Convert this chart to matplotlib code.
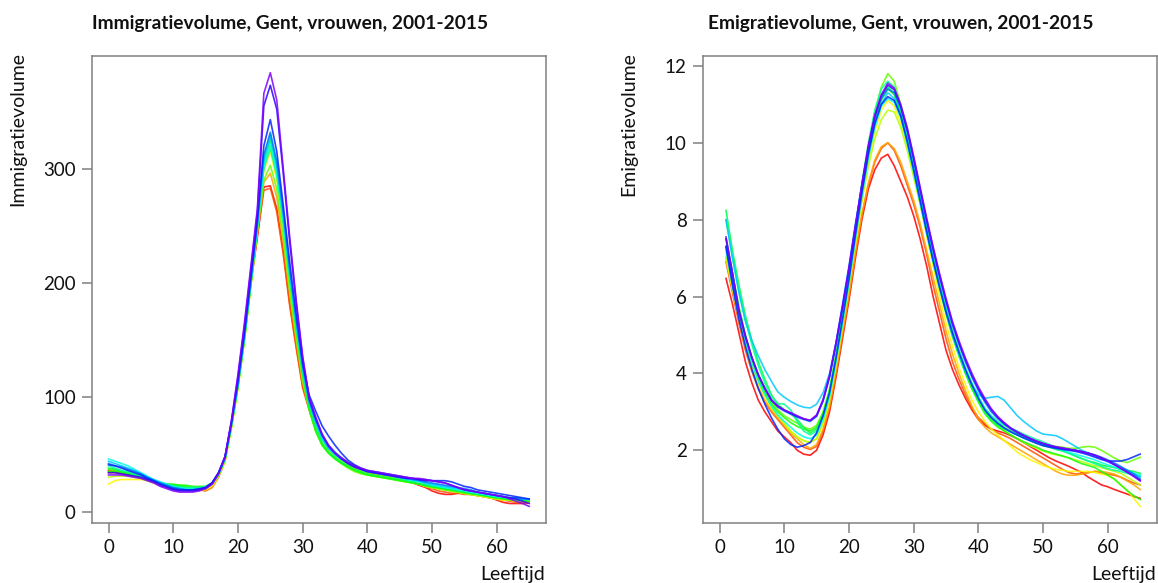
import numpy as np
import matplotlib.pyplot as plt
from matplotlib.colors import hsv_to_rgb

plt.rcParams['font.family'] = ['Lato', 'DejaVu Sans']

jaren = list(range(2001, 2016))
leeftijd_imm = list(range(0, 66))
leeftijd_emi = list(range(1, 66))

# immigratievolume per leeftijd (0-65), een lijst per jaar
imm_2001 = [36,35,34,33,31,29,28,26,24,22,20,19,19,19,19,19,22,31,45,76,112,155,200, 240,284,285,265,228,182,145,110, 90,72,60,53,48,44,41,38,36,34,33,32,31,30,28,27,25,23,21,18,16,15,15,16,16,15,14,13,12,10,8,7,7,7,8]
imm_2002 = [34,34,33,32,31,30,28,26,24,23,21,20,20,19,19,18,21,30,44,75,111,154,200, 242,281,283,262,225,180,143,108, 89,71,59,52,47,44,41,38,36,34,33,32,31,30,28,27,26,24,22,20,18,17,16,16,15,15,14,13,12,11,10,9,8,8,8]
imm_2003 = [35,35,34,33,32,30,28,26,25,23,22,21,20,20,19,19,22,31,45,75,110,152,202, 245,288,296,275,236,190,150,113, 91,73,60,53,48,45,41,38,36,34,33,32,31,30,29,27,26,24,22,21,20,19,18,17,16,15,14,13,12,11,10,10,9,9,8]
imm_2004 = [24,27,28,28,28,28,27,25,23,22,21,20,19,19,19,19,22,31,44,74,108,150,198, 248,298,315,290,248,200,157,117, 92,74,61,53,48,44,40,37,35,33,32,31,30,29,27,26,25,24,22,21,20,19,18,17,16,15,14,13,12,11,10,10,9,9,9]
imm_2005 = [30,31,31,31,30,29,27,25,24,23,22,21,21,20,20,21,24,32,45,74,108,150,198, 250,302,320,295,252,202,158,118, 91,73,60,52,47,43,39,36,34,32,31,30,30,29,28,27,26,24,23,21,20,19,18,17,16,15,14,13,12,11,11,10,10,9,9]
imm_2006 = [37,36,35,33,32,30,28,26,25,24,23,23,22,21,21,21,24,32,45,74,109,150,198, 246,290,303,282,240,193,152,115, 89,70,58,51,46,42,38,35,33,32,31,30,29,28,27,26,25,24,22,21,20,19,18,17,16,15,15,14,13,12,11,10,10,9,9]
imm_2007 = [35,35,34,33,32,30,28,26,25,24,24,23,23,22,22,22,25,33,46,75,110,151,200, 250,305,325,300,256,205,160,120, 90,71,58,51,46,42,39,36,34,32,31,30,29,28,27,26,25,24,23,22,21,20,19,18,17,16,15,14,13,12,11,11,10,10,9]
imm_2008 = [38,37,35,34,32,31,29,27,25,24,23,22,21,21,21,21,24,32,46,76,110,152,200, 252,310,330,304,258,207,162,121, 92,73,60,52,47,43,40,37,35,33,32,31,30,29,28,27,26,24,23,22,21,20,19,18,17,16,15,14,13,12,12,11,10,10,10]
imm_2009 = [40,38,36,35,33,31,29,27,25,23,22,21,21,21,21,22,25,33,46,76,111,152,201, 249,300,318,294,252,204,162,122, 95,77,63,55,49,45,42,39,37,35,34,33,32,31,29,28,27,26,24,23,22,21,20,19,18,17,16,15,14,13,12,12,11,11,10]
imm_2010 = [46,44,42,40,37,34,31,28,26,24,22,21,20,20,20,21,25,33,47,77,112,154,202, 250,303,322,298,256,208,165,125, 97,79,65,56,50,46,43,40,37,35,34,33,32,31,30,28,27,26,25,23,22,21,20,19,18,17,16,15,14,13,13,12,12,11,11]
imm_2011 = [44,42,40,38,36,33,30,28,25,23,21,20,19,19,20,21,25,34,47,77,112,154,203, 252,308,328,303,260,210,166,126, 96,78,64,55,50,46,42,39,37,35,34,33,32,31,30,29,28,27,25,24,23,22,21,20,19,18,17,16,15,14,13,12,12,11,11]
imm_2012 = [42,40,39,37,35,33,30,27,25,23,21,20,19,19,19,20,24,33,47,77,112,155,203, 253,312,332,306,262,212,168,127, 97,80,67,58,52,47,43,40,37,35,34,33,32,31,30,29,28,27,26,25,24,23,22,21,20,19,17,16,15,14,13,12,12,11,11]
imm_2013 = [41,40,38,36,34,32,29,27,24,22,20,19,19,19,20,21,25,34,48,78,114,156,205, 255,320,343,315,268,218,172,130, 102,88,75,66,58,51,45,41,38,36,35,34,33,32,31,30,29,28,28,27,27,27,26,24,22,21,19,18,17,16,15,14,13,12,11]
imm_2014 = [34,34,33,32,31,30,28,26,23,21,19,18,18,18,19,21,25,34,48,79,118,162,212, 262,355,373,352,296,236,182,134, 99,82,67,57,51,46,42,39,37,35,34,33,32,31,30,29,29,28,27,27,26,25,23,21,19,18,17,16,15,14,13,12,11,9,7]
imm_2015 = [32,32,32,31,30,29,27,25,22,20,18,17,17,17,18,20,24,33,48,80,120,165,215, 265,366,384,360,300,240,185,136, 100,83,68,58,51,47,43,40,38,36,35,34,33,32,31,30,29,29,28,27,26,25,23,21,19,18,17,16,15,14,13,11,9,7,4.5]

# emigratievolume per leeftijd (1-65)
emi_2001 = [6.47,5.8,5.05,4.3,3.75,3.3,3.0,2.75,2.5,2.35,2.2,2.0,1.9,1.87, 2.0,2.4,3.0,3.9,4.9,5.9,7.0,8.0,8.8,9.3,9.6,9.7, 9.4,9.0,8.6,8.1,7.5,6.8,6.0,5.3,4.6,4.1,3.7,3.35,3.05,2.8, 2.65,2.55,2.5,2.45,2.38,2.3,2.2,2.1,2.0,1.9,1.8,1.72,1.65,1.58,1.5,1.42,1.3,1.2,1.1,1.05,0.98,0.92,0.86,0.8,0.75]
emi_2002 = [6.9,6.1,5.3,4.6,4.05,3.6,3.25,3.0,2.8,2.6,2.4,2.2,2.08,2.02, 2.1,2.5,3.1,4.0,5.0,6.0,7.1,8.1,8.9,9.5,9.85,10.0, 9.8,9.4,8.9,8.4,7.8,7.1,6.3,5.6,4.9,4.3,3.85,3.45,3.1,2.85, 2.7,2.55,2.45,2.38,2.3,2.2,2.1,2.0,1.9,1.8,1.7,1.6,1.5,1.42,1.38,1.4,1.42,1.45,1.42,1.38,1.35,1.3,1.22,1.15,1.1]
emi_2003 = [7.0,6.2,5.4,4.7,4.1,3.65,3.3,3.05,2.85,2.65,2.45,2.3,2.15,2.05, 2.15,2.55,3.15,4.05,5.05,6.05,7.15,8.15,8.95,9.55,9.9,10.0, 9.85,9.5,9.0,8.5,7.9,7.2,6.5,5.8,5.1,4.5,4.0,3.55,3.15,2.8, 2.6,2.45,2.35,2.25,2.15,2.05,1.95,1.85,1.75,1.65,1.55,1.45,1.38,1.35,1.35,1.38,1.42,1.45,1.45,1.42,1.38,1.3,1.2,1.1,0.98]
emi_2004 = [7.0,6.2,5.45,4.75,4.2,3.75,3.4,3.1,2.9,2.7,2.5,2.35,2.25,2.2, 2.3,2.7,3.3,4.2,5.2,6.3,7.4,8.5,9.5,10.3,10.85,11.1, 10.95,10.5,9.9,9.2,8.4,7.6,6.8,6.0,5.3,4.7,4.15,3.7,3.3,3.0, 2.75,2.55,2.4,2.25,2.1,1.95,1.85,1.75,1.68,1.6,1.55,1.5,1.48,1.45,1.45,1.45,1.45,1.42,1.38,1.35,1.25,1.1,0.95,0.75,0.54]
emi_2005 = [7.05,6.25,5.5,4.8,4.25,3.8,3.45,3.15,2.9,2.7,2.5,2.35,2.25,2.2, 2.3,2.7,3.35,4.25,5.25,6.3,7.4,8.5,9.4,10.1,10.6,10.85, 10.8,10.4,9.8,9.1,8.4,7.7,7.0,6.3,5.7,5.1,4.6,4.1,3.7,3.3, 3.0,2.8,2.65,2.5,2.4,2.3,2.2,2.12,2.05,1.98,1.92,1.88,1.85,1.8,1.75,1.7,1.65,1.6,1.55,1.5,1.45,1.4,1.3,1.2,1.1]
emi_2006 = [7.3,6.45,5.6,4.9,4.3,3.85,3.5,3.25,3.05,2.9,2.8,2.7,2.6,2.55, 2.65,3.0,3.6,4.5,5.5,6.6,7.8,8.9,9.9,10.8,11.45,11.8, 11.6,11.0,10.3,9.5,8.6,7.8,7.0,6.3,5.6,5.0,4.5,4.0,3.6,3.3, 3.05,2.85,2.7,2.6,2.5,2.42,2.35,2.28,2.2,2.15,2.12,2.1,2.08,2.05,2.05,2.08,2.1,2.08,2.0,1.9,1.8,1.72,1.68,1.75,1.82]
emi_2007 = [7.5,6.6,5.75,5.0,4.4,3.9,3.5,3.2,3.0,2.85,2.72,2.62,2.55,2.5, 2.6,2.95,3.55,4.45,5.45,6.5,7.65,8.75,9.75,10.55,11.1,11.4, 11.25,10.75,10.05,9.25,8.45,7.65,6.9,6.2,5.55,4.95,4.45,4.0,3.6,3.25, 2.95,2.75,2.6,2.5,2.4,2.3,2.22,2.15,2.08,2.0,1.95,1.9,1.85,1.8,1.72,1.65,1.6,1.55,1.45,1.35,1.25,1.1,0.95,0.82,0.72]
emi_2008 = [8.24,7.2,6.3,5.5,4.85,4.3,3.85,3.45,3.2,3.05,2.95,2.8,2.6,2.45, 2.55,2.9,3.5,4.4,5.45,6.55,7.7,8.8,9.85,10.65,11.2,11.45, 11.3,10.8,10.1,9.3,8.5,7.7,6.95,6.25,5.6,5.0,4.5,4.05,3.65,3.3, 3.0,2.8,2.65,2.55,2.48,2.4,2.32,2.25,2.18,2.12,2.08,2.02,1.98,1.92,1.85,1.78,1.72,1.68,1.62,1.58,1.55,1.5,1.48,1.45,1.4]
emi_2009 = [8.0,7.05,6.15,5.4,4.75,4.2,3.75,3.4,3.22,3.2,3.05,2.75,2.5,2.4, 2.5,2.85,3.5,4.45,5.5,6.6,7.8,8.95,10.0,10.85,11.4,11.6, 11.45,10.95,10.25,9.45,8.6,7.8,7.05,6.35,5.7,5.1,4.6,4.15,3.75,3.4, 3.1,2.9,2.75,2.65,2.58,2.5,2.42,2.35,2.28,2.22,2.15,2.08,2.0,1.92,1.85,1.78,1.72,1.65,1.58,1.52,1.48,1.45,1.4,1.36,1.33]
emi_2010 = [7.2,6.3,5.45,4.8,4.25,3.8,3.45,3.15,2.92,2.75,2.6,2.45,2.35,2.3, 2.4,2.8,3.4,4.3,5.3,6.35,7.5,8.6,9.6,10.4,10.95,11.15, 11.05,10.65,10.0,9.25,8.45,7.7,6.95,6.25,5.6,5.05,4.55,4.1,3.7,3.35, 3.05,2.85,2.7,2.58,2.48,2.4,2.32,2.25,2.2,2.15,2.1,2.05,2.0,1.95,1.9,1.85,1.8,1.75,1.68,1.62,1.56,1.5,1.45,1.4,1.35]
emi_2011 = [8.0,7.0,6.1,5.35,4.85,4.45,4.1,3.8,3.52,3.38,3.27,3.18,3.12,3.1, 3.2,3.5,4.0,4.8,5.8,6.8,7.9,8.9,9.8,10.5,11.0,11.3, 11.15,10.7,10.0,9.3,8.5,7.7,6.95,6.25,5.6,5.0,4.5,4.05,3.7,3.45, 3.35,3.38,3.4,3.3,3.1,2.9,2.75,2.62,2.5,2.42,2.4,2.38,2.3,2.2,2.1,2.0,1.92,1.85,1.78,1.7,1.62,1.55,1.48,1.4,1.3]
emi_2012 = [7.3,6.45,5.6,4.95,4.4,3.95,3.6,3.3,3.12,3.02,2.94,2.86,2.8,2.75, 2.88,3.28,3.9,4.75,5.7,6.7,7.8,8.85,9.85,10.65,11.15,11.4, 11.3,10.9,10.3,9.55,8.75,7.95,7.2,6.5,5.85,5.25,4.75,4.3,3.9,3.55, 3.25,3.0,2.82,2.68,2.55,2.45,2.37,2.3,2.23,2.17,2.12,2.08,2.05,2.02,2.0,1.97,1.93,1.88,1.82,1.75,1.67,1.58,1.48,1.38,1.25]
emi_2013 = [7.3,6.3,5.4,4.7,4.1,3.6,3.2,2.85,2.55,2.3,2.15,2.08,2.12,2.2, 2.45,2.9,3.5,4.4,5.4,6.45,7.6,8.7,9.7,10.5,11.0,11.2, 11.1,10.7,10.05,9.3,8.5,7.7,6.95,6.25,5.6,5.05,4.55,4.1,3.7,3.35, 3.05,2.85,2.7,2.58,2.48,2.4,2.32,2.25,2.18,2.12,2.08,2.05,2.02,2.0,1.97,1.93,1.88,1.82,1.76,1.72,1.72,1.72,1.76,1.83,1.9]
emi_2014 = [7.5,6.6,5.65,4.98,4.42,3.97,3.62,3.32,3.15,3.04,2.96,2.88,2.82,2.77, 2.9,3.3,3.92,4.78,5.72,6.72,7.82,8.9,9.9,10.7,11.22,11.5, 11.38,10.95,10.35,9.6,8.8,8.0,7.25,6.55,5.9,5.3,4.8,4.35,3.95,3.6, 3.3,3.05,2.85,2.7,2.57,2.47,2.38,2.3,2.23,2.17,2.12,2.08,2.05,2.02,2.0,1.96,1.92,1.87,1.8,1.72,1.63,1.53,1.43,1.33,1.22]
emi_2015 = [7.55,6.62,5.6,4.95,4.4,3.95,3.6,3.3,3.15,3.05,2.98,2.9,2.82,2.78, 2.92,3.32,3.95,4.8,5.75,6.75,7.85,8.92,9.92,10.72,11.25,11.55, 11.42,11.0,10.4,9.65,8.85,8.05,7.3,6.6,5.95,5.35,4.85,4.4,4.0,3.65, 3.35,3.08,2.88,2.72,2.58,2.48,2.39,2.31,2.24,2.18,2.13,2.09,2.06,2.03,2.0,1.96,1.92,1.87,1.8,1.72,1.63,1.53,1.43,1.32,1.2]

immigratie = [imm_2001, imm_2002, imm_2003, imm_2004, imm_2005, imm_2006, imm_2007, imm_2008,
              imm_2009, imm_2010, imm_2011, imm_2012, imm_2013, imm_2014, imm_2015]
emigratie = [emi_2001, emi_2002, emi_2003, emi_2004, emi_2005, emi_2006, emi_2007, emi_2008,
             emi_2009, emi_2010, emi_2011, emi_2012, emi_2013, emi_2014, emi_2015]

# regenboogkleuren zoals rainbow() in R, van rood naar paars
kleuren = [hsv_to_rgb((h, 1.0, 1.0)) for h in np.linspace(0, 0.75, len(jaren))]

W, H = 1158, 583
fig = plt.figure(figsize=(W / 100, H / 100), dpi=100)

box_top, box_bottom, box_w = 55.7, 523.3, 454.3
ax1 = fig.add_axes([91.7 / W, (H - box_bottom) / H, box_w / W, (box_bottom - box_top) / H])
ax2 = fig.add_axes([702.7 / W, (H - box_bottom) / H, box_w / W, (box_bottom - box_top) / H])

for waarden, kleur in zip(immigratie, kleuren):
    ax1.plot(leeftijd_imm, waarden, color=kleur, lw=1.2, alpha=0.85)
for waarden, kleur in zip(emigratie, kleuren):
    ax2.plot(leeftijd_emi, waarden, color=kleur, lw=1.2, alpha=0.85)

ax1.set_xlim(-2.6, 67.6)
ax1.set_ylim(-10.3, 398.9)
ax1.set_yticks([0, 100, 200, 300])
ax2.set_xlim(-2.6, 67.6)
ax2.set_ylim(0.10, 12.265)
ax2.set_yticks([2, 4, 6, 8, 10, 12])

for ax in (ax1, ax2):
    ax.set_xticks([0, 10, 20, 30, 40, 50, 60])
    for sp in ax.spines.values():
        sp.set_color('#808080')
        sp.set_linewidth(1.1)
    ax.tick_params(direction='out', length=7.5, width=1.1, color='#808080',
                   labelsize=13.5, labelcolor='#111111', pad=4)

titels = ['Immigratievolume, Gent, vrouwen, 2001-2015', 'Emigratievolume, Gent, vrouwen, 2001-2015']
ylabels = ['Immigratievolume', 'Emigratievolume']
lefts = [91.7, 702.7]
for titel, ylab, left in zip(titels, ylabels, lefts):
    fig.text((left + box_w / 2 - 29) / W, 1 - 29.5 / H, titel, ha='center', va='baseline',
             fontsize=13.8, fontweight='bold', color='#111111')
    fig.text((left - 73.7) / W, 1 - 52 / H, ylab, rotation=90, ha='center', va='top',
             fontsize=14, color='#111111')
    fig.text((left + box_w - 1) / W, 1 - 580 / H, 'Leeftijd', ha='right', va='baseline',
             fontsize=14, color='#111111')

fig.savefig('out.png', dpi=100)
